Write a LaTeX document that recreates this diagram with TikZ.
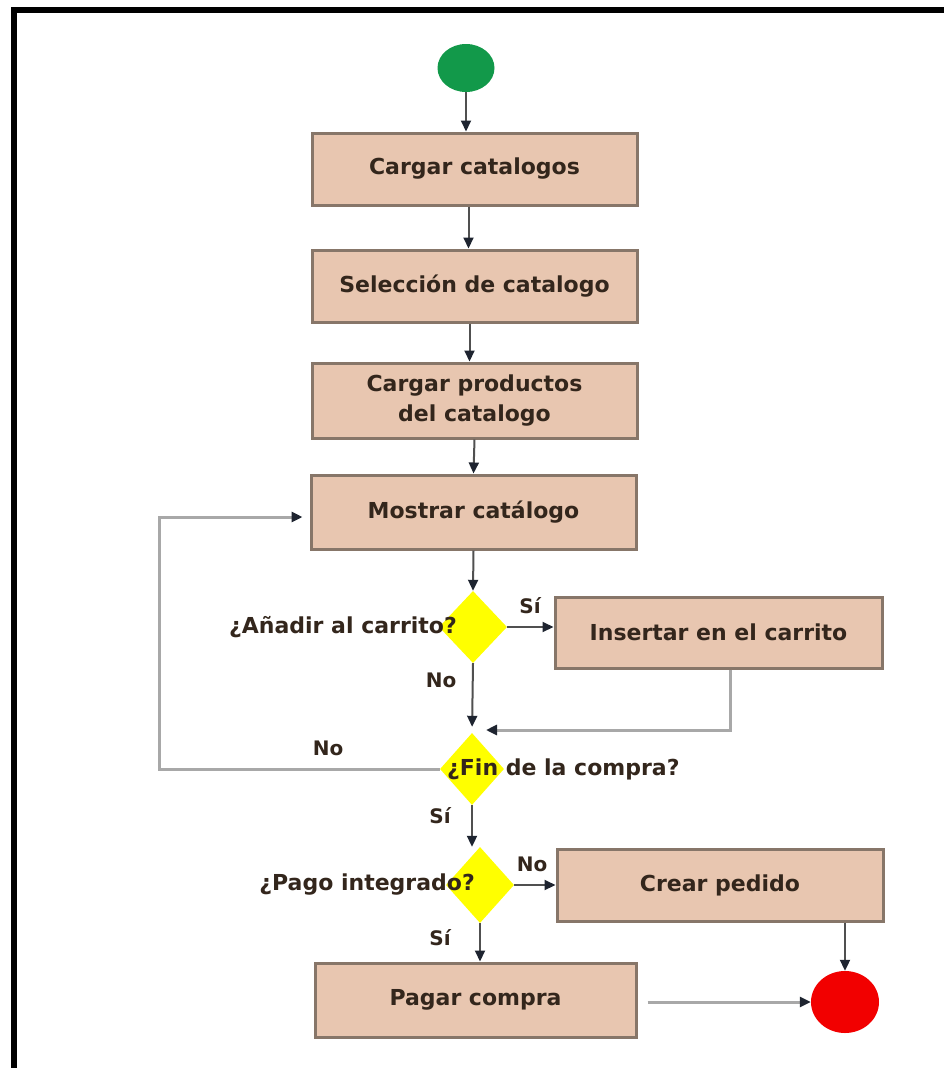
\documentclass[tikz,border=0pt]{standalone}
\usepackage{fontspec}
\setmainfont{DejaVu Sans}
\usetikzlibrary{shapes.geometric,arrows.meta}
\definecolor{boxfill}{HTML}{E8C6B0}
\definecolor{boxedge}{HTML}{877669}
\definecolor{ink}{HTML}{33261C}
\definecolor{startgreen}{HTML}{12994A}
\definecolor{endred}{HTML}{F20000}
\definecolor{decision}{HTML}{FFFF00}
\definecolor{flowline}{HTML}{505050}
\definecolor{loopline}{HTML}{A8A8A8}
\definecolor{tipcol}{HTML}{1E2430}

\begin{document}
\begin{tikzpicture}[x=1pt,y=-1pt,
  stepbox/.style={rectangle, draw=boxedge, line width=3pt, fill=boxfill,
    minimum width=325pt, minimum height=72pt, inner sep=0pt,
    text=ink, font=\bfseries\fontsize{22}{30}\selectfont, align=center},
  decide/.style={diamond, fill=decision, inner sep=0pt},
  lbl/.style={text=ink, font=\bfseries\fontsize{22}{30}\selectfont, inner sep=0pt},
  edgelbl/.style={text=ink, font=\bfseries\fontsize{20}{26}\selectfont, inner sep=0pt},
  arr/.style={draw=flowline, line width=2pt,
    -{Triangle[length=11pt,width=10pt,color=tipcol]}},
  looparr/.style={draw=loopline, line width=3pt,
    -{Triangle[length=11pt,width=10pt,color=tipcol]}}
]
\useasboundingbox (0,0) rectangle (944,1068);

% frame along the top and left edges
\draw[line width=6pt, line join=miter] (14,1068) -- (14,9.5) -- (944,9.5);

% start and end states
\node[ellipse, fill=startgreen, minimum width=57pt, minimum height=48pt, inner sep=0pt] (start) at (466,68) {};
\node[ellipse, fill=endred, minimum width=68pt, minimum height=62pt, inner sep=0pt] (stop) at (845,1002) {};

% activities
\node[stepbox] (b1) at (474.5,169) {Cargar catalogos};
\node[stepbox] (b2) at (474.5,286) {Selección de catalogo};
\node[stepbox, minimum height=75pt] (b3) at (474.5,400.5) {Cargar productos\\del catalogo};
\node[stepbox, minimum height=74pt] (b4) at (473.5,512) {Mostrar catálogo};
\node[stepbox, minimum width=327pt, minimum height=71pt] (b5) at (718.5,632.5) {Insertar en el carrito};
\node[stepbox, minimum width=326pt] (b6) at (720,885) {Crear pedido};
\node[stepbox, minimum width=321pt, minimum height=74pt] (b7) at (475.5,1000) {Pagar compra};

% decisions
\node[decide, minimum width=68pt, minimum height=72pt] (d1) at (473,627) {};
\node[decide, minimum width=64pt, minimum height=72pt] (d2) at (472,769) {};
\node[decide, minimum width=68pt, minimum height=76pt] (d3) at (480,885) {};

% main flow
\draw[arr] (start.south) -- (start.south |- b1.north);
\draw[arr] ([xshift=-6pt]b1.south) -- ([xshift=-6pt]b2.north);
\draw[arr] ([xshift=-5pt]b2.south) -- ([xshift=-5pt]b3.north);
\draw[arr] (b3.south) -- (b4.north);
\draw[arr] (b4.south) -- (d1.north);
\draw[arr] (d1.east) -- (d1.east -| b5.west);
\draw[arr, shorten >=6pt] (d1.south) -- (d2.north);
\coordinate (join) at (486,730);
\draw[looparr] ([xshift=12pt]b5.south) |- (join);
\draw[looparr] (d2.west) -| ([xshift=-150pt,yshift=-5pt]b4.west) -- ([xshift=-7pt,yshift=-5pt]b4.west);
\draw[arr] (d2.south) -- (d2.south |- d3.north);
\draw[arr] (d3.east) -- (d3.east -| b6.west);
\draw[arr] (d3.south) -- (d3.south |- b7.north);
\draw[arr] (stop.north |- b6.south) -- (stop.north);
\draw[looparr, shorten <=10pt] (b7.east |- stop.west) -- (stop.west);

% decision questions
\node[lbl, anchor=east] (qadd) at (457,627) {¿Añadir al carrito?};
\node[lbl, anchor=west] (qfin) at (447,769) {¿Fin de la compra?};
\node[lbl, anchor=east] (qpay) at (475,885) {¿Pago integrado?};

% branch labels
\node[edgelbl] (ysadd) at (530,606) {Sí};
\node[edgelbl] (noadd) at (441,680) {No};
\node[edgelbl] (nofin) at (328,748) {No};
\node[edgelbl] (ysfin) at (440,816) {Sí};
\node[edgelbl] (nopay) at (532,864) {No};
\node[edgelbl] (yspay) at (440,938) {Sí};
\end{tikzpicture}
\end{document}
